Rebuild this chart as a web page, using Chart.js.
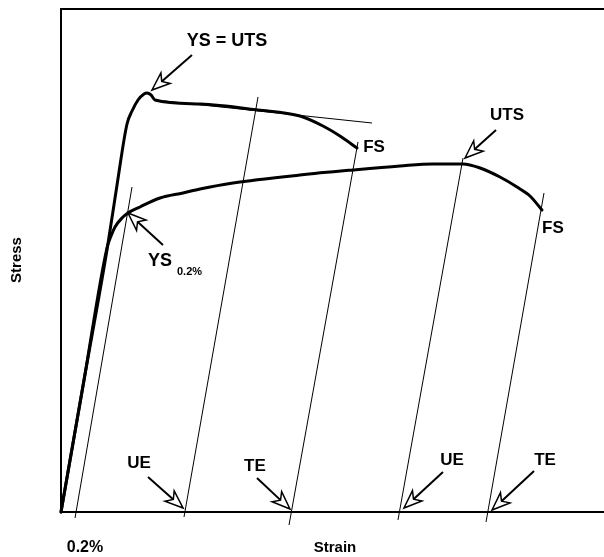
<!DOCTYPE html>
<html>
<head>
<meta charset="utf-8">
<script src="https://cdn.jsdelivr.net/npm/chart.js@4/dist/chart.umd.min.js"></script>
<style>
  html, body { margin: 0; padding: 0; background: #fff; }
  #wrap { width: 604px; height: 557px; position: relative; }
</style>
</head>
<body>
<div id="wrap"><canvas id="chart"></canvas></div>
<script>
// Strain in %, stress in relative units (0-100)

// Material with a yield point (YS = UTS)
const highStrain = [0, 0.307, 0.613, 0.747, 0.88, 0.947, 1.027, 1.107, 1.147, 1.2, 1.253, 1.853, 2.627, 3.187, 3.493, 3.72, 3.947];
const highStress = [0, 26.29, 52.19, 65.14, 77.29, 79.88, 82.07, 83.27, 83.47, 83.07, 82.07, 81.27, 80.08, 78.88, 76.89, 74.9, 72.51];

// Continuously hardening material (0.2 % offset yield)
const lowStrain = [0, 0.307, 0.613, 0.667, 0.72, 0.813, 0.893, 1.053, 1.32, 1.627, 1.853, 2.293, 3.187, 3.893, 4.52, 4.96, 5.36, 5.587, 5.853, 6.08, 6.253, 6.413];
const lowStress = [0, 26.29, 52.59, 54.98, 56.77, 58.57, 59.56, 60.76, 62.55, 63.55, 64.34, 65.54, 67.13, 68.13, 68.92, 69.32, 69.32, 68.53, 66.73, 64.74, 62.95, 60.16];

// Thin construction lines, each as [strain, stress] end points
const offsetLine  = [[0.187, -1.2], [0.947, 64.74]];
const ueHighLine  = [[1.64, -1.0], [2.627, 82.67]];
const teHighLine  = [[3.04, -2.59], [3.96, 73.71]];
const ueLowLine   = [[4.493, -1.59], [5.36, 70.52]];
const teLowLine   = [[5.667, -1.99], [6.44, 63.55]];
const tangentLine = [[1.253, 82.07], [4.147, 77.49]];

// Callout labels and the points they point at
const calloutText   = ['YS = UTS', 'UTS', 'UE', 'TE', 'UE', 'TE'];
const calloutStrain = [1.213, 5.387, 1.627, 3.053, 4.573, 5.747];
const calloutStress = [84.06, 70.52, 0.8, 0.6, 0.8, 0.4];

const toPoints = (xs, ys) => xs.map((x, i) => ({ x, y: ys[i] }));
const pairPoints = p => p.map(([x, y]) => ({ x, y }));

const FONT = "'Liberation Sans', Arial, Helvetica, sans-serif";

function thin(points) {
  return {
    data: pairPoints(points),
    showLine: true,
    borderColor: '#000',
    borderWidth: 1,
    pointRadius: 0,
    tension: 0,
    clip: false
  };
}

function thick(points) {
  return {
    data: points,
    showLine: true,
    borderColor: '#000',
    borderWidth: 3,
    pointRadius: 0,
    cubicInterpolationMode: 'monotone',
    borderCapStyle: 'round',
    borderJoinStyle: 'round',
    clip: false
  };
}

// Open-headed arrow from tail to tip
function drawArrow(ctx, tx, ty, px, py) {
  const dx = px - tx, dy = py - ty;
  const len = Math.hypot(dx, dy);
  const ux = dx / len, uy = dy / len;
  const nx = -uy, ny = ux;
  const L = 18, W = 7;
  const bx = px - ux * L, by = py - uy * L;
  const mx = px - ux * L * 0.72, my = py - uy * L * 0.72;
  ctx.save();
  ctx.strokeStyle = '#000';
  ctx.lineWidth = 2;
  ctx.beginPath();
  ctx.moveTo(tx, ty);
  ctx.lineTo(mx, my);
  ctx.stroke();
  ctx.lineWidth = 1.5;
  ctx.fillStyle = '#fff';
  ctx.beginPath();
  ctx.moveTo(px, py);
  ctx.lineTo(bx + nx * W, by + ny * W);
  ctx.lineTo(mx, my);
  ctx.lineTo(bx - nx * W, by - ny * W);
  ctx.closePath();
  ctx.fill();
  ctx.stroke();
  ctx.restore();
}

// tail and label offsets (px) from each callout target
const calloutTail  = [[40, -35], [31, -28], [-35, -31], [-33, -31], [39, -36], [42, -39]];
const calloutLabel = [[75, -49], [42, -43], [-44, -45], [-35, -43], [48, -48], [53, -50]];
const calloutSize  = [18, 17, 17, 17, 17, 17];

const decorations = {
  id: 'decorations',
  beforeDatasetsDraw(chart) {
    const { ctx, chartArea: a } = chart;
    ctx.save();
    ctx.strokeStyle = '#000';
    ctx.lineWidth = 2;
    ctx.beginPath();
    ctx.moveTo(a.right, a.top - 1);
    ctx.lineTo(a.left, a.top - 1);
    ctx.lineTo(a.left, a.bottom);
    ctx.lineTo(a.right, a.bottom);
    ctx.stroke();
    ctx.restore();
  },
  afterDatasetsDraw(chart) {
    const { ctx, chartArea: a, scales: { x, y } } = chart;
    ctx.save();
    ctx.fillStyle = '#000';
    ctx.textAlign = 'center';
    ctx.textBaseline = 'middle';

    // callouts with open arrows
    calloutText.forEach((t, i) => {
      const px = x.getPixelForValue(calloutStrain[i]);
      const py = y.getPixelForValue(calloutStress[i]);
      drawArrow(ctx, px + calloutTail[i][0], py + calloutTail[i][1], px, py);
      ctx.font = `bold ${calloutSize[i]}px ${FONT}`;
      ctx.fillText(t, px + calloutLabel[i][0], py + calloutLabel[i][1]);
    });

    // YS 0.2% callout on the offset intersection
    const yx = x.getPixelForValue(0.893), yy = y.getPixelForValue(59.56);
    drawArrow(ctx, yx + 35, yy + 32, yx, yy);
    ctx.textAlign = 'left';
    ctx.font = `bold 18px ${FONT}`;
    ctx.fillText('YS', yx + 20, yy + 48);
    ctx.font = `bold 11px ${FONT}`;
    ctx.fillText('0.2%', yx + 49, yy + 59);

    // fracture points
    ctx.textAlign = 'center';
    ctx.font = `bold 17px ${FONT}`;
    const hx = x.getPixelForValue(highStrain[highStrain.length - 1]);
    const hy = y.getPixelForValue(highStress[highStress.length - 1]);
    ctx.fillText('FS', hx + 17, hy - 1);
    const lx = x.getPixelForValue(lowStrain[lowStrain.length - 1]);
    const ly = y.getPixelForValue(lowStress[lowStress.length - 1]);
    ctx.fillText('FS', lx + 11, ly + 18);

    // axis titles
    ctx.font = `bold 15px ${FONT}`;
    ctx.fillText('Strain', 335, a.bottom + 36);
    ctx.font = `bold 16px ${FONT}`;
    ctx.fillText('0.2%', 85, a.bottom + 36);
    ctx.translate(17, 260);
    ctx.rotate(-Math.PI / 2);
    ctx.font = `bold 15px ${FONT}`;
    ctx.fillText('Stress', 0, 0);
    ctx.restore();
  }
};

new Chart(document.getElementById('chart'), {
  type: 'scatter',
  data: {
    datasets: [
      thick(toPoints(highStrain, highStress)),
      thick(toPoints(lowStrain, lowStress)),
      thin(offsetLine),
      thin(ueHighLine),
      thin(teHighLine),
      thin(ueLowLine),
      thin(teLowLine),
      thin(tangentLine)
    ]
  },
  options: {
    responsive: true,
    maintainAspectRatio: false,
    animation: false,
    layout: { padding: { left: 61, top: 10, right: 0, bottom: 45 } },
    plugins: { legend: { display: false }, tooltip: { enabled: false } },
    scales: {
      x: { type: 'linear', display: false, min: 0, max: 7.24 },
      y: { type: 'linear', display: false, min: 0, max: 100 }
    }
  },
  plugins: [decorations]
});
</script>
</body>
</html>
